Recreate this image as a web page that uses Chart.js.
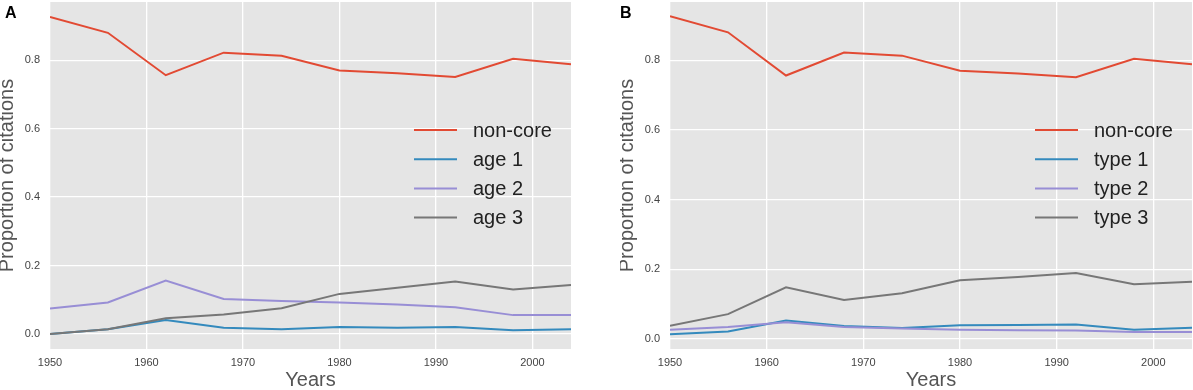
<!DOCTYPE html>
<html>
<head>
<meta charset="utf-8">
<script src="https://cdn.jsdelivr.net/npm/chart.js@4/dist/chart.umd.min.js"></script>
<style>
  body { margin: 0; width: 1193px; height: 390px; overflow: hidden; background: #fff;
         font-family: "Liberation Sans", Arial, sans-serif; }
  .panel { position: absolute; top: 0; height: 390px; }
  .letter { position: absolute; top: 5px; font-weight: bold; font-size: 16px; line-height: 1; color: #000; }
</style>
</head>
<body>
<div class="panel" style="left:0; width:572px"><canvas id="chart-a" width="572" height="390"></canvas></div>
<div class="panel" style="left:620px; width:573px"><canvas id="chart-b" width="573" height="390"></canvas></div>
<div class="letter" style="left:5px">A</div>
<div class="letter" style="left:620px">B</div>

<script>
var years = [1950, 1956, 1962, 1968, 1974, 1980, 1986, 1992, 1998, 2004];

var non_core = [0.926, 0.880, 0.756, 0.822, 0.813, 0.770, 0.762, 0.751, 0.804, 0.788];

// panel A: citation age
var age_1 = [0.000, 0.014, 0.041, 0.018, 0.014, 0.020, 0.018, 0.020, 0.011, 0.014];
var age_2 = [0.074, 0.092, 0.156, 0.102, 0.096, 0.092, 0.086, 0.078, 0.055, 0.055];
var age_3 = [0.000, 0.014, 0.046, 0.057, 0.075, 0.117, 0.135, 0.153, 0.130, 0.143];

// panel B: citation type
var type_1 = [0.013, 0.021, 0.053, 0.037, 0.031, 0.039, 0.040, 0.041, 0.026, 0.032];
var type_2 = [0.026, 0.034, 0.048, 0.034, 0.030, 0.026, 0.025, 0.024, 0.020, 0.020];
var type_3 = [0.038, 0.071, 0.148, 0.112, 0.131, 0.168, 0.178, 0.189, 0.157, 0.164];

var x_ticks = [1950, 1960, 1970, 1980, 1990, 2000];
var y_ticks = [0.0, 0.2, 0.4, 0.6, 0.8];

var colors = ['#E24A33', '#348ABD', '#988ED5', '#777777'];
var font_family = '"Liberation Sans", Arial, sans-serif';

function points(values) {
    return years.map(function (y, i) { return {x: y, y: values[i]}; });
}

function make_datasets(labels, series) {
    return series.map(function (s, i) {
        return {
            label: labels[i],
            data: points(s),
            borderColor: colors[i],
            backgroundColor: colors[i],
            borderWidth: 2,
            pointRadius: 0,
            tension: 0,
            order: series.length - 1 - i   // later series on top, like matplotlib
        };
    });
}

// grey panel background
const background_plugin = {
    id: 'panel_background',
    beforeDraw: function (chart) {
        var a = chart.chartArea, ctx = chart.ctx;
        ctx.save();
        ctx.fillStyle = '#E5E5E5';
        ctx.fillRect(a.left, a.top, a.right - a.left, a.bottom - a.top);
        ctx.restore();
    }
};

// legend drawn inside the plot area
const inner_legend_plugin = {
    id: 'inner_legend',
    afterDatasetsDraw: function (chart) {
        var a = chart.chartArea, ctx = chart.ctx;
        ctx.save();
        ctx.font = '20px ' + font_family;
        ctx.textBaseline = 'middle';
        chart.data.datasets.forEach(function (ds, i) {
            var y = 130 + 29.2 * i;
            ctx.strokeStyle = ds.borderColor;
            ctx.lineWidth = 2;
            ctx.beginPath();
            ctx.moveTo(a.right - 157, y);
            ctx.lineTo(a.right - 114, y);
            ctx.stroke();
            ctx.fillStyle = '#222';
            ctx.fillText(ds.label, a.right - 98, y + 1);
        });
        ctx.restore();
    }
};

function panel_options(y_min, y_max) {
    return {
        responsive: false,
        animation: false,
        layout: { padding: { top: 2, right: 1, left: 0, bottom: 0 } },
        plugins: { legend: { display: false }, tooltip: { enabled: false } },
        scales: {
            x: {
                type: 'linear',
                min: 1950,
                max: 2004,
                afterBuildTicks: function (s) { s.ticks = x_ticks.map(function (v) { return {value: v}; }); },
                afterFit: function (s) { s.height = 41; s.paddingLeft = 0; s.paddingRight = 0; },
                grid: { color: '#ffffff', lineWidth: 1.3, drawTicks: false },
                border: { display: false },
                ticks: { color: '#444', font: { size: 11, family: font_family }, padding: 7,
                         maxRotation: 0, callback: function (v) { return String(v); } },
                title: { display: true, text: 'Years', color: '#555',
                         font: { size: 20, family: font_family, lineHeight: 1 }, padding: 0 }
            },
            y: {
                min: y_min,
                max: y_max,
                afterBuildTicks: function (s) { s.ticks = y_ticks.map(function (v) { return {value: v}; }); },
                afterFit: function (s) { s.width = 50; s.paddingTop = 0; s.paddingBottom = 0; },
                grid: { color: '#ffffff', lineWidth: 1.3, drawTicks: false },
                border: { display: false },
                ticks: { color: '#444', font: { size: 11, family: font_family }, padding: 10,
                         callback: function (v) { return v.toFixed(1); } },
                title: { display: true, text: 'Proportion of citations', color: '#555',
                         font: { size: 20, family: font_family, lineHeight: 1 },
                         padding: { top: -3, bottom: 0 } }
            }
        }
    };
}

const chart_a = new Chart(document.getElementById('chart-a'), {
    type: 'line',
    data: { datasets: make_datasets(['non-core', 'age 1', 'age 2', 'age 3'], [non_core, age_1, age_2, age_3]) },
    options: panel_options(-0.044, 0.97),
    plugins: [background_plugin, inner_legend_plugin]
});

const chart_b = new Chart(document.getElementById('chart-b'), {
    type: 'line',
    data: { datasets: make_datasets(['non-core', 'type 1', 'type 2', 'type 3'], [non_core, type_1, type_2, type_3]) },
    options: panel_options(-0.029, 0.967),
    plugins: [background_plugin, inner_legend_plugin]
});
</script>
</body>
</html>
